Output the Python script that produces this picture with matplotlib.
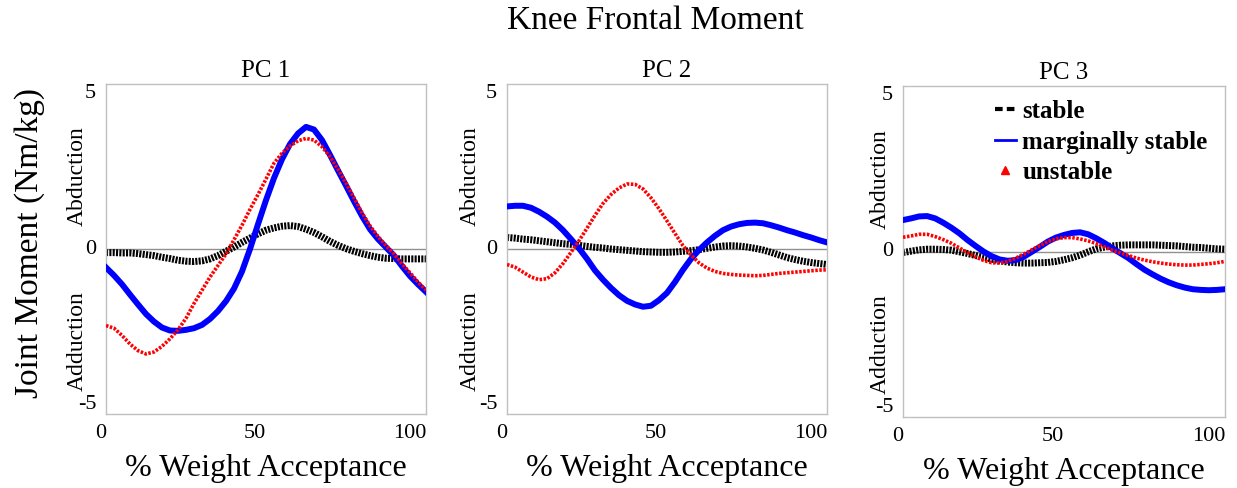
import numpy as np
import matplotlib
matplotlib.use('agg')
import matplotlib.pyplot as plt
from matplotlib.lines import Line2D

plt.rcParams['font.family'] = ['Liberation Serif', 'DejaVu Serif']

# % weight acceptance, sampled every 2.5 %
pct = [0, 2.5, 5, 7.5, 10, 12.5, 15, 17.5, 20, 22.5, 25, 27.5, 30, 32.5, 35, 37.5,
       40, 42.5, 45, 47.5, 50, 52.5, 55, 57.5, 60, 62.5, 65, 67.5, 70, 72.5, 75,
       77.5, 80, 82.5, 85, 87.5, 90, 92.5, 95, 97.5, 100]

# PC 1
pc1_stable = [-0.11, -0.11, -0.12, -0.12, -0.14, -0.17, -0.20, -0.25, -0.29, -0.34,
              -0.37, -0.38, -0.36, -0.30, -0.20, -0.07, 0.06, 0.20, 0.33, 0.46,
              0.57, 0.64, 0.69, 0.71, 0.68, 0.60, 0.50, 0.37, 0.23, 0.11,
              0.01, -0.07, -0.14, -0.20, -0.25, -0.28, -0.29, -0.30, -0.30, -0.30,
              -0.30]
pc1_marginal = [-0.56, -0.80, -1.07, -1.38, -1.68, -1.97, -2.20, -2.38, -2.47, -2.48,
                -2.45, -2.40, -2.30, -2.12, -1.88, -1.58, -1.20, -0.68, 0.00, 0.75,
                1.48, 2.15, 2.72, 3.18, 3.50, 3.70, 3.62, 3.30, 2.85, 2.38,
                1.92, 1.45, 1.00, 0.60, 0.30, 0.05, -0.20, -0.52, -0.82, -1.07,
                -1.30]
pc1_unstable = [-2.32, -2.40, -2.62, -2.88, -3.08, -3.18, -3.12, -2.95, -2.72, -2.45,
                -2.10, -1.65, -1.25, -0.85, -0.50, -0.15, 0.28, 0.72, 1.20, 1.65,
                2.12, 2.60, 2.90, 3.12, 3.28, 3.35, 3.30, 3.10, 2.80, 2.42,
                2.00, 1.55, 1.10, 0.70, 0.38, 0.10, -0.15, -0.45, -0.72, -1.00,
                -1.25]

# PC 2
pc2_stable = [0.35, 0.33, 0.30, 0.28, 0.25, 0.22, 0.19, 0.16, 0.14, 0.11,
              0.08, 0.05, 0.03, 0.00, -0.02, -0.04, -0.06, -0.08, -0.09, -0.10,
              -0.10, -0.09, -0.07, -0.05, -0.02, 0.02, 0.06, 0.09, 0.10, 0.09,
              0.06, 0.02, -0.03, -0.10, -0.18, -0.26, -0.32, -0.37, -0.41, -0.44,
              -0.47]
pc2_marginal = [1.29, 1.31, 1.31, 1.25, 1.13, 0.98, 0.80, 0.57, 0.30, 0.02,
                -0.30, -0.65, -0.93, -1.18, -1.40, -1.57, -1.68, -1.75, -1.72, -1.55,
                -1.33, -1.00, -0.63, -0.30, -0.03, 0.20, 0.40, 0.57, 0.68, 0.75,
                0.79, 0.80, 0.78, 0.72, 0.65, 0.57, 0.50, 0.42, 0.35, 0.27,
                0.20]
pc2_unstable = [-0.47, -0.55, -0.70, -0.85, -0.93, -0.90, -0.72, -0.44, -0.10, 0.25,
                0.63, 1.02, 1.38, 1.65, 1.85, 1.97, 1.96, 1.82, 1.55, 1.22,
                0.85, 0.47, 0.10, -0.18, -0.42, -0.58, -0.68, -0.74, -0.77, -0.79,
                -0.80, -0.81, -0.80, -0.77, -0.74, -0.72, -0.70, -0.68, -0.66, -0.64,
                -0.63]

# PC 3
pc3_stable = [-0.03, 0.01, 0.05, 0.07, 0.07, 0.06, 0.04, -0.01, -0.06, -0.12,
              -0.18, -0.23, -0.28, -0.32, -0.34, -0.35, -0.35, -0.34, -0.33, -0.30,
              -0.25, -0.19, -0.11, -0.01, 0.08, 0.13, 0.17, 0.19, 0.20, 0.20,
              0.20, 0.20, 0.19, 0.18, 0.17, 0.15, 0.13, 0.12, 0.10, 0.08,
              0.07]
pc3_marginal = [0.95, 1.00, 1.06, 1.07, 1.00, 0.87, 0.72, 0.55, 0.35, 0.17,
                0.00, -0.14, -0.24, -0.28, -0.26, -0.16, -0.01, 0.14, 0.30, 0.42,
                0.50, 0.56, 0.58, 0.52, 0.40, 0.26, 0.10, -0.05, -0.20, -0.38,
                -0.55, -0.69, -0.82, -0.93, -1.02, -1.09, -1.14, -1.16, -1.17, -1.16,
                -1.14]
pc3_unstable = [0.43, 0.47, 0.52, 0.52, 0.45, 0.36, 0.25, 0.11, -0.03, -0.16,
                -0.27, -0.34, -0.35, -0.30, -0.20, -0.08, 0.05, 0.18, 0.30, 0.38,
                0.42, 0.42, 0.38, 0.32, 0.24, 0.14, 0.04, -0.04, -0.12, -0.20,
                -0.26, -0.31, -0.35, -0.38, -0.40, -0.41, -0.41, -0.39, -0.37, -0.34,
                -0.30]

titles = ['PC 1', 'PC 2', 'PC 3']
stable = [pc1_stable, pc2_stable, pc3_stable]
marginal = [pc1_marginal, pc2_marginal, pc3_marginal]
unstable = [pc1_unstable, pc2_unstable, pc3_unstable]
labels = ['stable', 'marginally stable', 'unstable']
yticks = [-5, 0, 5]
xticks = [0, 50, 100]

W, H = 1237, 488
# axes boxes in pixels: left, top, right, bottom
boxes = [(106, 84, 426, 414), (507, 84, 827, 414), (903, 86, 1225, 417)]
side_off = [-0.09, -0.115, -0.072]


def plot_panels():
    plt.rcParams['lines.scale_dashes'] = False
    fig = plt.figure(figsize=(W / 100, H / 100), dpi=100)

    for i in range(3):
        l, t, r, b = boxes[i]
        ax = fig.add_axes([l / W, (H - b) / H, (r - l) / W, (b - t) / H])
        ax.axhline(0, color='#909090', lw=1, zorder=1)
        ax.plot(pct, stable[i], color='black', lw=5, dashes=(1.5, 0.9), zorder=2)
        ax.plot(pct, marginal[i], color='#0000ff', lw=4.3, zorder=3,
                solid_joinstyle='round')
        ax.plot(pct, unstable[i], color='#ff0000', lw=2.6, dashes=(1.8, 1.1), zorder=4)

        ax.set_xlim(0, 100)
        ax.set_ylim(-5, 5)
        ax.set_xticks(xticks)
        ax.set_yticks(yticks)
        ax.set_xticklabels([str(v) for v in xticks], ha='right', fontsize=16)
        ax.set_yticklabels([str(v) for v in yticks], fontsize=16)
        for lab, va in zip(ax.get_yticklabels(), ['bottom', 'center', 'top']):
            lab.set_va(va)
        ax.tick_params(length=0, pad=7)
        for s in ax.spines.values():
            s.set_color('#c0c0c0')
            s.set_linewidth(1)
        ax.set_title(titles[i], fontsize=18, pad=5)
        ax.set_xlabel('% Weight Acceptance', fontsize=23, labelpad=8)

        ax.text(side_off[i], 0.72, 'Abduction', transform=ax.transAxes,
                rotation=90, ha='center', va='center', fontsize=17)
        ax.text(side_off[i], 0.22, 'Adduction', transform=ax.transAxes,
                rotation=90, ha='center', va='center', fontsize=17)

        if i == 2:
            handles = [Line2D([], [], color='black', lw=3, dashes=(5.5, 3)),
                       Line2D([], [], color='#0000ff', lw=2),
                       Line2D([], [], color='#ff0000', lw=0, marker='^', markersize=6)]
            ax.legend(handles, labels, loc='upper left', bbox_to_anchor=(0.215, 1.025),
                      frameon=False, handlelength=0.85, handletextpad=0.25,
                      labelspacing=0.3, prop={'weight': 'bold', 'size': 18})

    fig.text(0.024, 1 - 243 / H, 'Joint Moment (Nm/kg)', rotation=90,
             ha='center', va='center', fontsize=24)
    fig.text(655 / W, 1 - 21 / H, 'Knee Frontal Moment', ha='center',
             va='center', fontsize=24)

    plt.savefig('out.png', dpi=100)


if __name__ == "__main__":
    plot_panels()
